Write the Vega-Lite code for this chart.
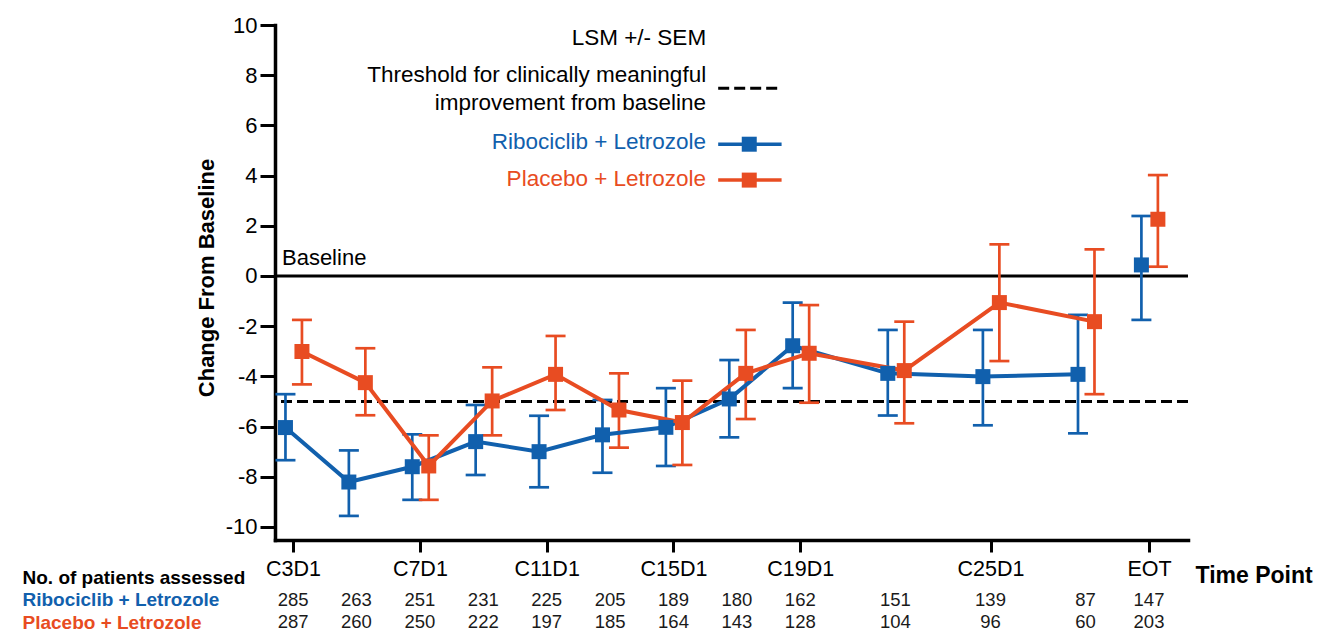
{
  "$schema": "https://vega.github.io/schema/vega-lite/v6.json",
  "width": 913,
  "height": 515,
  "autosize": {"type": "none"},
  "padding": {"left": 275, "top": 25, "right": 134, "bottom": 91},
  "background": "white",
  "config": {
    "font": "Liberation Sans",
    "view": {"stroke": null},
    "axisY": {"tickSize": 15, "tickWidth": 3, "tickColor": "black", "domainWidth": 3.5, "domainColor": "black", "domainCap": "square", "labelFontSize": 22, "labelColor": "black", "labelPadding": 3, "titleFontSize": 22, "titleFontWeight": "bold", "titleColor": "black", "titleX": -62, "titleY": 252.5, "titleAngle": -90, "titleAlign": "center", "titleBaseline": "alphabetic", "grid": false},
    "axisX": {"tickSize": 12, "tickWidth": 3, "tickColor": "black", "domainWidth": 3.5, "domainColor": "black", "domainCap": "square", "labelFontSize": 21.5, "labelColor": "black", "labelPadding": 6, "titleFontSize": 23, "titleFontWeight": "bold", "titleColor": "black", "titleX": 920, "titleY": 42, "titleAlign": "left", "titleAnchor": "start", "titleBaseline": "alphabetic", "grid": false}
  },
  "datasets": {
    "main": [
      {"time": 3, "group": "Ribociclib + Letrozole", "lsm": -6.04, "lo": -7.34, "hi": -4.71},
      {"time": 5, "group": "Ribociclib + Letrozole", "lsm": -8.21, "lo": -9.56, "hi": -6.95},
      {"time": 7, "group": "Ribociclib + Letrozole", "lsm": -7.6, "lo": -8.92, "hi": -6.31},
      {"time": 9, "group": "Ribociclib + Letrozole", "lsm": -6.6, "lo": -7.93, "hi": -5.14},
      {"time": 11, "group": "Ribociclib + Letrozole", "lsm": -7.0, "lo": -8.42, "hi": -5.57},
      {"time": 13, "group": "Ribociclib + Letrozole", "lsm": -6.33, "lo": -7.84, "hi": -4.94},
      {"time": 15, "group": "Ribociclib + Letrozole", "lsm": -6.03, "lo": -7.57, "hi": -4.47},
      {"time": 17, "group": "Ribociclib + Letrozole", "lsm": -4.9, "lo": -6.43, "hi": -3.35},
      {"time": 19, "group": "Ribociclib + Letrozole", "lsm": -2.78, "lo": -4.47, "hi": -1.06},
      {"time": 22, "group": "Ribociclib + Letrozole", "lsm": -3.88, "lo": -5.56, "hi": -2.15},
      {"time": 25, "group": "Ribociclib + Letrozole", "lsm": -4.01, "lo": -5.95, "hi": -2.15},
      {"time": 28, "group": "Ribociclib + Letrozole", "lsm": -3.92, "lo": -6.27, "hi": -1.55},
      {"time": 30, "group": "Ribociclib + Letrozole", "lsm": 0.44, "lo": -1.75, "hi": 2.39},
      {"time": 3, "group": "Placebo + Letrozole", "lsm": -3.01, "lo": -4.32, "hi": -1.75},
      {"time": 5, "group": "Placebo + Letrozole", "lsm": -4.25, "lo": -5.55, "hi": -2.88},
      {"time": 7, "group": "Placebo + Letrozole", "lsm": -7.57, "lo": -8.92, "hi": -6.35},
      {"time": 9, "group": "Placebo + Letrozole", "lsm": -4.98, "lo": -6.35, "hi": -3.64},
      {"time": 11, "group": "Placebo + Letrozole", "lsm": -3.92, "lo": -5.34, "hi": -2.39},
      {"time": 13, "group": "Placebo + Letrozole", "lsm": -5.34, "lo": -6.84, "hi": -3.88},
      {"time": 15, "group": "Placebo + Letrozole", "lsm": -5.84, "lo": -7.53, "hi": -4.17},
      {"time": 17, "group": "Placebo + Letrozole", "lsm": -3.88, "lo": -5.7, "hi": -2.15},
      {"time": 19, "group": "Placebo + Letrozole", "lsm": -3.08, "lo": -5.05, "hi": -1.16},
      {"time": 22, "group": "Placebo + Letrozole", "lsm": -3.77, "lo": -5.87, "hi": -1.82},
      {"time": 25, "group": "Placebo + Letrozole", "lsm": -1.06, "lo": -3.39, "hi": 1.26},
      {"time": 28, "group": "Placebo + Letrozole", "lsm": -1.82, "lo": -4.71, "hi": 1.06},
      {"time": 30, "group": "Placebo + Letrozole", "lsm": 2.26, "lo": 0.37, "hi": 4.02}
    ],
    "counts": [
      {"time": 3, "group": "Ribociclib + Letrozole", "n": 285},
      {"time": 5, "group": "Ribociclib + Letrozole", "n": 263},
      {"time": 7, "group": "Ribociclib + Letrozole", "n": 251},
      {"time": 9, "group": "Ribociclib + Letrozole", "n": 231},
      {"time": 11, "group": "Ribociclib + Letrozole", "n": 225},
      {"time": 13, "group": "Ribociclib + Letrozole", "n": 205},
      {"time": 15, "group": "Ribociclib + Letrozole", "n": 189},
      {"time": 17, "group": "Ribociclib + Letrozole", "n": 180},
      {"time": 19, "group": "Ribociclib + Letrozole", "n": 162},
      {"time": 22, "group": "Ribociclib + Letrozole", "n": 151},
      {"time": 25, "group": "Ribociclib + Letrozole", "n": 139},
      {"time": 28, "group": "Ribociclib + Letrozole", "n": 87},
      {"time": 30, "group": "Ribociclib + Letrozole", "n": 147},
      {"time": 3, "group": "Placebo + Letrozole", "n": 287},
      {"time": 5, "group": "Placebo + Letrozole", "n": 260},
      {"time": 7, "group": "Placebo + Letrozole", "n": 250},
      {"time": 9, "group": "Placebo + Letrozole", "n": 222},
      {"time": 11, "group": "Placebo + Letrozole", "n": 197},
      {"time": 13, "group": "Placebo + Letrozole", "n": 185},
      {"time": 15, "group": "Placebo + Letrozole", "n": 164},
      {"time": 17, "group": "Placebo + Letrozole", "n": 143},
      {"time": 19, "group": "Placebo + Letrozole", "n": 128},
      {"time": 22, "group": "Placebo + Letrozole", "n": 104},
      {"time": 25, "group": "Placebo + Letrozole", "n": 96},
      {"time": 28, "group": "Placebo + Letrozole", "n": 60},
      {"time": 30, "group": "Placebo + Letrozole", "n": 203}
    ],
    "refs": [
      {"line": "Baseline", "value": 0},
      {"line": "Threshold", "value": -5}
    ]
  },
  "layer": [
    {
      "data": {"name": "main"},
      "transform": [
        {"calculate": "datum.time + (datum.group == 'Placebo + Letrozole' ? 0.28 : -0.24)", "as": "xpos"}
      ],
      "layer": [
        {
          "data": {"name": "refs"},
          "mark": {"type": "rule", "strokeWidth": 3, "color": "black"},
          "encoding": {
            "y": {"field": "value", "type": "quantitative", "title": "Change From Baseline", "scale": {"domain": [-10.52, 10], "nice": false, "zero": false}, "axis": {"values": [-10, -8, -6, -4, -2, 0, 2, 4, 6, 8, 10], "labelExpr": "'' + datum.value"}},
            "strokeDash": {"condition": {"test": "datum.line == 'Threshold'", "value": [11, 5]}, "value": [1, 0]}
          }
        },
        {
          "mark": {"type": "rule", "strokeWidth": 2.7},
          "encoding": {
            "x": {"field": "xpos", "type": "quantitative", "title": "Time Point", "scale": {"domain": [2.43, 31.23], "nice": false, "zero": false}, "axis": {"values": [3, 7, 11, 15, 19, 25, 30], "labelExpr": "datum.value == 30 ? 'EOT' : 'C' + datum.value + 'D1'"}},
            "y": {"field": "lo", "type": "quantitative", "title": "Change From Baseline", "scale": {"domain": [-10.52, 10], "nice": false, "zero": false}, "axis": {"values": [-10, -8, -6, -4, -2, 0, 2, 4, 6, 8, 10], "labelExpr": "'' + datum.value"}},
            "y2": {"field": "hi"},
            "color": {"field": "group", "type": "nominal", "scale": {"domain": ["Ribociclib + Letrozole", "Placebo + Letrozole"], "range": ["#1160ad", "#e84c22"]}, "legend": null}
          }
        },
        {
          "mark": {"type": "tick", "orient": "horizontal", "size": 20, "thickness": 2.7, "opacity": 1},
          "encoding": {
            "x": {"field": "xpos", "type": "quantitative", "title": "Time Point"},
            "y": {"field": "lo", "type": "quantitative", "title": "Change From Baseline"},
            "color": {"field": "group", "type": "nominal", "legend": null}
          }
        },
        {
          "mark": {"type": "tick", "orient": "horizontal", "size": 20, "thickness": 2.7, "opacity": 1},
          "encoding": {
            "x": {"field": "xpos", "type": "quantitative", "title": "Time Point"},
            "y": {"field": "hi", "type": "quantitative", "title": "Change From Baseline"},
            "color": {"field": "group", "type": "nominal", "legend": null}
          }
        },
        {
          "transform": [{"filter": "datum.time < 30"}],
          "mark": {"type": "line", "strokeWidth": 4},
          "encoding": {
            "x": {"field": "xpos", "type": "quantitative", "title": "Time Point"},
            "y": {"field": "lsm", "type": "quantitative", "title": "Change From Baseline"},
            "color": {"field": "group", "type": "nominal", "legend": null}
          }
        },
        {
          "mark": {"type": "point", "shape": "square", "filled": true, "size": 225, "opacity": 1},
          "encoding": {
            "x": {"field": "xpos", "type": "quantitative", "title": "Time Point"},
            "y": {"field": "lsm", "type": "quantitative", "title": "Change From Baseline"},
            "color": {"field": "group", "type": "nominal", "legend": null}
          }
        },
        {
          "data": {"values": [{"label": "Baseline"}]},
          "mark": {"type": "text", "align": "left", "baseline": "alphabetic", "fontSize": 22, "color": "black"},
          "encoding": {"x": {"datum": 2.65}, "y": {"datum": 0.44}, "text": {"field": "label"}}
        },
        {
          "data": {"values": [{"label": "LSM +/- SEM"}]},
          "mark": {"type": "text", "align": "right", "baseline": "alphabetic", "fontSize": 22.5, "color": "black"},
          "encoding": {"x": {"datum": 16.03}, "y": {"datum": 9.2}, "text": {"field": "label"}}
        },
        {
          "data": {"values": [{"label": "Threshold for clinically meaningful\nimprovement from baseline"}]},
          "mark": {"type": "text", "align": "right", "baseline": "alphabetic", "fontSize": 22.5, "lineBreak": "\n", "lineHeight": 27.7, "color": "black"},
          "encoding": {"x": {"datum": 16.03}, "y": {"datum": 7.72}, "text": {"field": "label"}}
        },
        {
          "data": {"values": [{"label": "Threshold"}]},
          "mark": {"type": "rule", "strokeWidth": 3, "strokeDash": [11, 5], "color": "black"},
          "encoding": {"x": {"datum": 16.41}, "x2": {"datum": 18.41}, "y": {"datum": 7.48}}
        },
        {
          "data": {"values": [{"label": "Ribociclib + Letrozole"}]},
          "mark": {"type": "text", "align": "right", "baseline": "alphabetic", "fontSize": 22.5, "color": "#1160ad"},
          "encoding": {"x": {"datum": 16.03}, "y": {"datum": 5.06}, "text": {"field": "label"}}
        },
        {
          "data": {"values": [{"label": "Ribociclib + Letrozole"}]},
          "mark": {"type": "rule", "strokeWidth": 3.5, "color": "#1160ad"},
          "encoding": {"x": {"datum": 16.41}, "x2": {"datum": 18.41}, "y": {"datum": 5.25}}
        },
        {
          "data": {"values": [{"label": "Ribociclib + Letrozole"}]},
          "mark": {"type": "point", "shape": "square", "filled": true, "size": 225, "opacity": 1, "color": "#1160ad"},
          "encoding": {"x": {"datum": 17.39}, "y": {"datum": 5.25}}
        },
        {
          "data": {"values": [{"label": "Placebo + Letrozole"}]},
          "mark": {"type": "text", "align": "right", "baseline": "alphabetic", "fontSize": 22.5, "color": "#e84c22"},
          "encoding": {"x": {"datum": 16.03}, "y": {"datum": 3.6}, "text": {"field": "label"}}
        },
        {
          "data": {"values": [{"label": "Placebo + Letrozole"}]},
          "mark": {"type": "rule", "strokeWidth": 3.5, "color": "#e84c22"},
          "encoding": {"x": {"datum": 16.41}, "x2": {"datum": 18.41}, "y": {"datum": 3.82}}
        },
        {
          "data": {"values": [{"label": "Placebo + Letrozole"}]},
          "mark": {"type": "point", "shape": "square", "filled": true, "size": 225, "opacity": 1, "color": "#e84c22"},
          "encoding": {"x": {"datum": 17.39}, "y": {"datum": 3.82}}
        }
      ]
    },
    {
      "data": {"name": "counts"},
      "mark": {"type": "text", "align": "center", "baseline": "alphabetic", "fontSize": 18.5, "color": "#1a1a1a"},
      "encoding": {
        "x": {"field": "time", "type": "quantitative", "title": "Time Point", "scale": {"domain": [2.43, 31.23], "nice": false, "zero": false}, "axis": {"values": [3, 7, 11, 15, 19, 25, 30], "labelExpr": "datum.value == 30 ? 'EOT' : 'C' + datum.value + 'D1'"}},
        "y": {
          "field": "group", "type": "nominal",
          "scale": {"type": "point", "domain": ["No. of patients assessed", "Ribociclib + Letrozole", "Placebo + Letrozole"], "range": [558, 603], "padding": 0},
          "axis": {"orient": "right", "title": null, "domain": false, "ticks": false, "tickSize": 0, "grid": false, "labelAlign": "left", "labelBaseline": "alphabetic", "labelPadding": -1166, "labelFontSize": 19, "labelFontWeight": "bold", "labelLimit": 0, "labelOverlap": false, "labelColor": {"expr": "datum.value == 'Ribociclib + Letrozole' ? '#1160ad' : (datum.value == 'Placebo + Letrozole' ? '#e84c22' : 'black')"}}
        },
        "text": {"field": "n", "type": "quantitative"}
      }
    }
  ],
  "resolve": {"scale": {"y": "independent"}, "axis": {"y": "independent"}}
}
